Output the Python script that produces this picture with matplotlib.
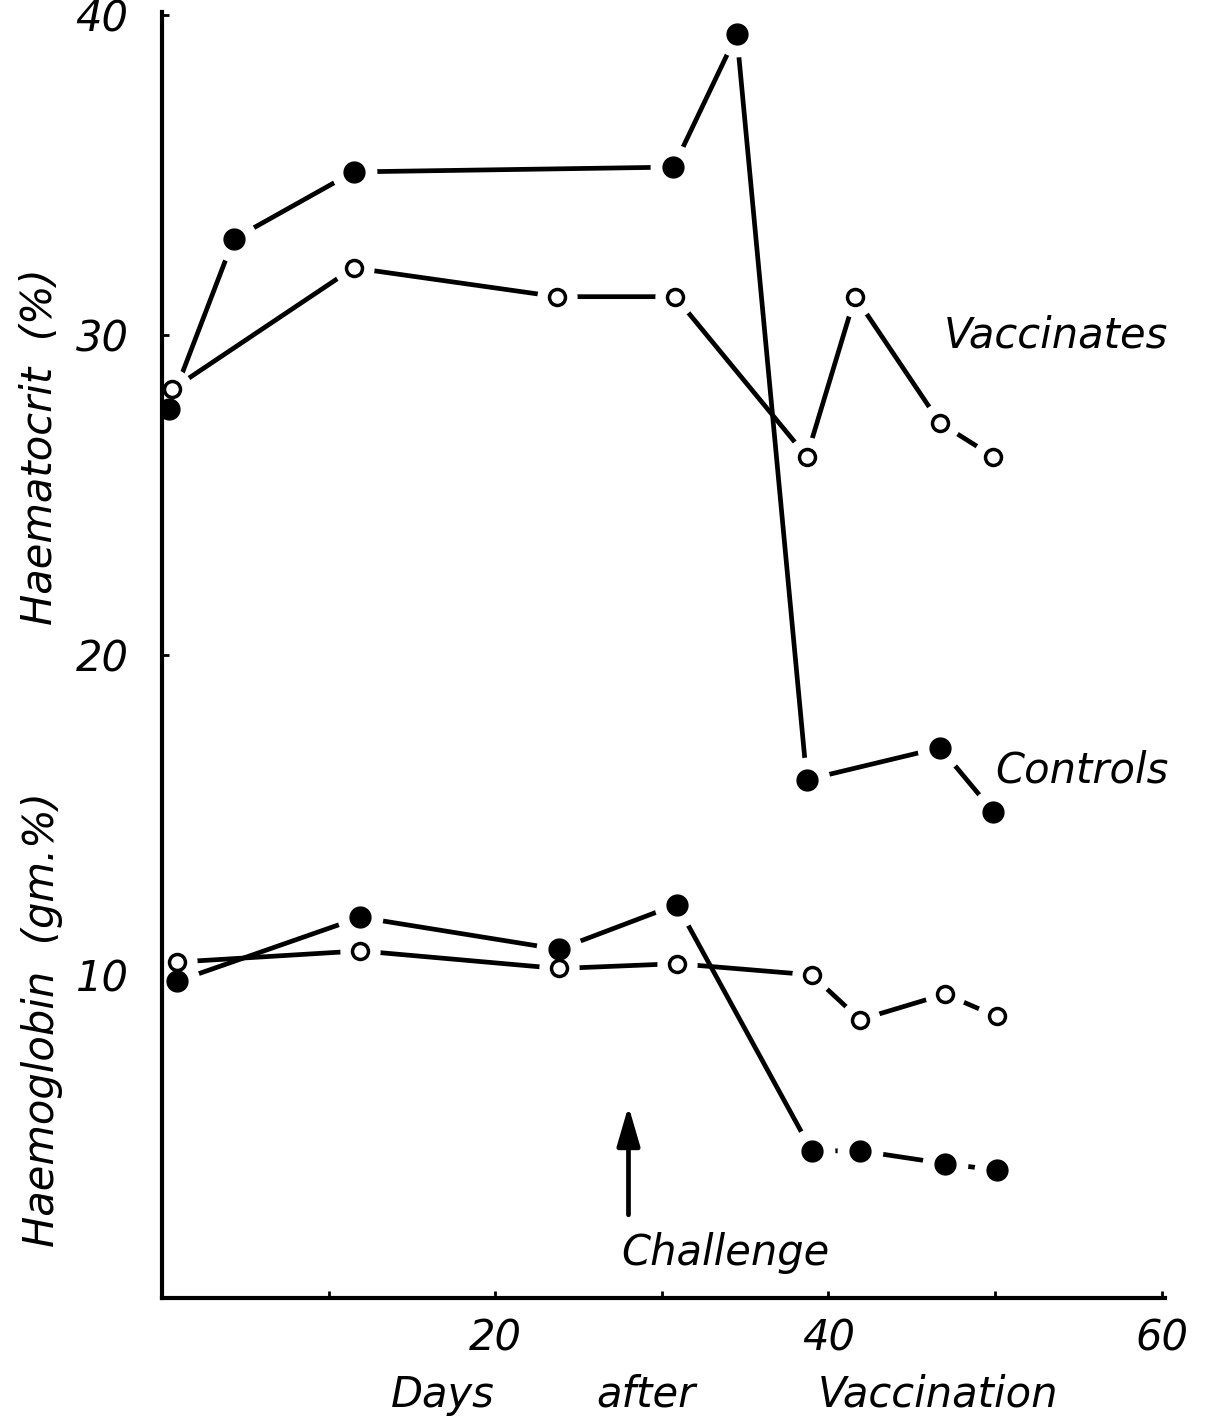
import numpy as np
import matplotlib.pyplot as plt

# Jours après vaccination
jours_ht_temoins = [0.4, 4.3, 11.5, 30.7, 34.5, 38.7, 46.7, 49.9]
jours_ht_vaccines = [0.6, 11.5, 23.7, 30.8, 38.7, 41.6, 46.7, 49.9]
jours_hb = [0.9, 11.9, 23.8, 30.9, 39.0, 41.9, 47.0, 50.1]

# Hématocrite (%)
ht_temoins = [27.7, 33.0, 35.1, 35.25, 39.4, 16.1, 17.1, 15.1]
ht_vaccines = [28.3, 32.1, 31.2, 31.2, 26.2, 31.2, 27.25, 26.2]

# Hémoglobine (gm.%)
hb_temoins = [9.8, 11.8, 10.8, 12.2, 4.5, 4.5, 4.1, 3.9]
hb_vaccines = [10.4, 10.75, 10.2, 10.35, 10.0, 8.6, 9.4, 8.7]

jour_epreuve = 28
police = dict(family='DejaVu Sans', style='italic', fontsize=30)

fig = plt.figure(figsize=(12.06, 14.22), dpi=100)
ax = fig.add_axes([0.1343, 0.0872, 0.8317, 0.9044])


def courbe(x, y, plein):
    # trait, puis un halo blanc pour couper le trait autour des points
    ax.plot(x, y, color='black', lw=3.4, solid_capstyle='butt', zorder=2)
    taille = 33 if plein else 29
    ax.plot(x, y, 'o', ms=taille, color='white', mec='none', zorder=2.2)
    if plein:
        ax.plot(x, y, 'o', ms=15, color='black', mec='black', zorder=4)
    else:
        ax.plot(x, y, 'o', ms=11.5, mfc='white', mec='black', mew=2.5, zorder=4)


courbe(jours_ht_temoins, ht_temoins, True)
courbe(jours_ht_vaccines, ht_vaccines, False)
courbe(jours_hb, hb_temoins, True)
courbe(jours_hb, hb_vaccines, False)

ax.set_xlim(0, 60.2)
ax.set_ylim(-0.1, 40.1)
ax.spines['top'].set_visible(False)
ax.spines['right'].set_visible(False)
for cote in ['left', 'bottom']:
    ax.spines[cote].set_linewidth(3)
    ax.spines[cote].set_zorder(3)

ax.set_xticks([10, 20, 30, 40, 50, 60])
ax.set_xticklabels(['', '20', '', '40', '', '60'])
ax.set_yticks([10, 20, 30, 40])
ax.tick_params(direction='in', length=5, width=2)
ax.tick_params(axis='x', pad=14)
ax.tick_params(axis='y', pad=24)
for lab in ax.get_xticklabels() + ax.get_yticklabels():
    lab.set_fontstyle('italic')
    lab.set_fontsize(30)

# flèche de l'épreuve
ax.annotate('', xy=(jour_epreuve, 5.9), xytext=(jour_epreuve, 2.5),
            arrowprops=dict(arrowstyle='-|>,head_length=2.4,head_width=0.7',
                            lw=3.4, color='black', shrinkA=0, shrinkB=0))
ax.text(33.8, 1.3, 'Challenge', ha='center', va='center', **police)

ax.text(46.9, 30.0, 'Vaccinates', ha='left', va='center', **police)
ax.text(50.0, 16.4, 'Controls', ha='left', va='center', **police)

fig.text(0.033, 0.686, 'Haematocrit  (%)', rotation=90, ha='center', va='center', **police)
fig.text(0.035, 0.283, 'Haemoglobin  (gm.%)', rotation=90, ha='center', va='center', **police)

fig.text(0.367, 0.019, 'Days', ha='center', va='center', **police)
fig.text(0.536, 0.019, 'after', ha='center', va='center', **police)
fig.text(0.778, 0.019, 'Vaccination', ha='center', va='center', **police)

fig.savefig('out.png', dpi=100)
